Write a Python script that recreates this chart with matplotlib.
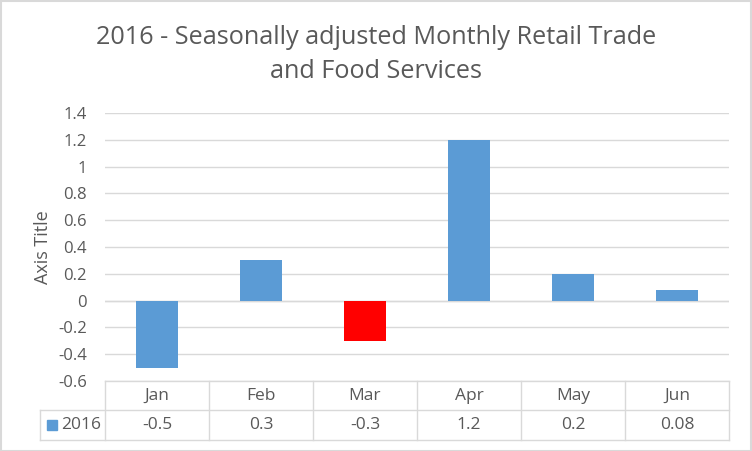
import numpy as np
import matplotlib
matplotlib.use("Agg")
from matplotlib import pyplot as plt
from matplotlib.patches import Rectangle

months = ["Jan", "Feb", "Mar", "Apr", "May", "Jun"]
values = [-0.5, 0.3, -0.3, 1.2, 0.2, 0.08]
value_labels = ["-0.5", "0.3", "-0.3", "1.2", "0.2", "0.08"]
series_name = "2016"
highlight = "Mar"

blue = "#5B9BD5"
red = "#FF0000"
grid_c = "#D9D9D9"
text_c = "#595959"

plt.rcParams['font.family'] = ['Open Sans', 'DejaVu Sans']

W, H = 752, 451
fig = plt.figure(figsize=(W / 100, H / 100), dpi=100)

# plot area in pixels
left, right, top, bottom = 105, 729, 113, 381
ax = fig.add_axes([left / W, 1 - bottom / H, (right - left) / W, (bottom - top) / H])

x = np.arange(len(months))
colors = [red if m == highlight else blue for m in months]
ax.bar(x, values, width=0.4, color=colors, zorder=3)

ax.set_xlim(-0.5, len(months) - 0.5)
ax.set_ylim(-0.6, 1.4)
yt = np.round(np.arange(-0.6, 1.41, 0.2), 1)
ax.set_yticks(yt)
ax.set_yticklabels(["0" if v == 0 else ("%g" % v) for v in yt])
ax.grid(axis='y', color=grid_c, linewidth=1, zorder=0)
ax.tick_params(axis='y', length=0, labelsize=12, labelcolor=text_c, pad=13)
ax.set_xticks([])
for s in ax.spines.values():
    s.set_visible(False)
ax.axhline(0, color=grid_c, linewidth=1, zorder=1)

ax.set_ylabel("Axis Title", fontsize=13, color=text_c)
ax.yaxis.set_label_coords((52 - left) / (right - left), 0.5)

# data table below the plot
px = (right - left) / len(months)
row1, row2, row3 = 381, 410, 440
tab_left = 40

def fy(p):
    return 1 - p / H

def fx_cat(i):
    return (left + i * px) / W

fig.add_artist(plt.Line2D([left / W, right / W], [fy(row1)] * 2, color=grid_c, lw=1))
fig.add_artist(plt.Line2D([tab_left / W, right / W], [fy(row2)] * 2, color=grid_c, lw=1))
fig.add_artist(plt.Line2D([tab_left / W, right / W], [fy(row3)] * 2, color=grid_c, lw=1))
for i in range(len(months) + 1):
    fig.add_artist(plt.Line2D([fx_cat(i)] * 2, [fy(row1), fy(row3)], color=grid_c, lw=1))
fig.add_artist(plt.Line2D([tab_left / W] * 2, [fy(row2), fy(row3)], color=grid_c, lw=1))

for i, (m, lab) in enumerate(zip(months, value_labels)):
    cx = (left + (i + 0.5) * px) / W
    fig.text(cx, fy((row1 + row2) / 2), m, ha='center', va='center', fontsize=12.5, color=text_c)
    fig.text(cx, fy((row2 + row3) / 2), lab, ha='center', va='center', fontsize=12.5, color=text_c)

fig.add_artist(Rectangle((47 / W, fy(430)), 10 / W, 10 / H, color=blue, transform=fig.transFigure))
fig.text(61 / W, fy((row2 + row3) / 2), series_name, ha='left', va='center', fontsize=12.5, color=text_c)

fig.text(376 / W, fy(37), "2016 - Seasonally adjusted Monthly Retail Trade",
         ha='center', va='center', fontsize=18.2, color=text_c)
fig.text(376 / W, fy(71), "and Food Services", ha='center', va='center', fontsize=18.2, color=text_c)

# chart border
fig.add_artist(Rectangle((0.5 / W, 0.5 / H), (W - 1.5) / W, (H - 1.5) / H, fill=False,
                         edgecolor=grid_c, lw=1.5, transform=fig.transFigure))

fig.savefig("out.png", dpi=100)
